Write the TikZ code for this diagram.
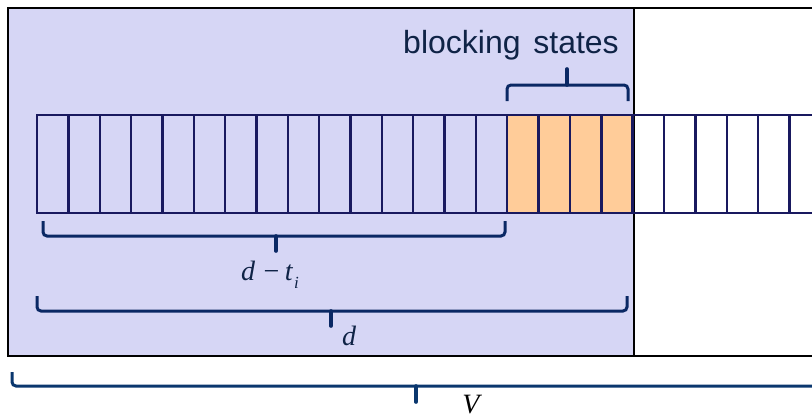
\documentclass[tikz,border=0pt]{standalone}
\usepackage{fontspec}
\setmainfont{Liberation Serif}
\newfontfamily\arialf{Liberation Sans}
\definecolor{lav}{RGB}{214,214,245}
\definecolor{orng}{RGB}{255,204,153}
\definecolor{cellc}{RGB}{25,25,95}
\definecolor{bracec}{RGB}{10,40,100}
\definecolor{bracev}{RGB}{10,55,110}
\definecolor{txtc}{RGB}{15,35,70}
\tikzset{
  cellbox/.style={draw=cellc, line width=2.4pt},
  bracebar/.style={line width=3pt, rounded corners=4pt, line cap=butt},
  cuspbar/.style={line width=3.6pt, line cap=round},
  mathlbl/.style={font=\fontsize{28}{30}\selectfont\itshape, text=txtc, inner sep=0pt, anchor=base},
}
\begin{document}
\begin{tikzpicture}[x=1pt,y=-1pt]
\useasboundingbox (0,0) rectangle (812,415);
\clip (0,0) rectangle (812,415);
% frame
\fill[lav] (8,8) rectangle (634,356);
\draw[black, line width=1.6pt] (830,8) -- (8,8) -- (8,356) -- (830,356);
\draw[black, line width=1.6pt] (634,8) -- (634,356);
% cells
\foreach \k in {15,...,18} {
  \pgfmathsetmacro{\xa}{37+\k*31.35}
  \pgfmathsetmacro{\xb}{37+(\k+1)*31.35}
  \fill[orng] (\xa,115) rectangle (\xb,213);
}
\foreach \k in {0,...,25} {
  \pgfmathsetmacro{\xa}{37+\k*31.35}
  \pgfmathsetmacro{\xb}{37+(\k+1)*31.35}
  \draw[cellbox] (\xa,115) rectangle (\xb,213);
}
% blocking states
\node[font=\arialf\fontsize{32}{36}\selectfont, text=txtc, inner sep=0pt, anchor=base] (bs) at (511,53) {blocking\hspace{0.4em}states};
\coordinate (b1) at (507,101);
\coordinate (b2) at (628,101);
\draw[bracec, bracebar] (b1) -- (507,85) -- (628,85) -- (b2);
\draw[bracec, cuspbar] (567,85) -- (567,69);
% d - t_i
\coordinate (t1) at (43,221);
\coordinate (t2) at (505,221);
\draw[bracec, bracebar] (t1) -- (43,236) -- (505,236) -- (t2);
\draw[bracec, cuspbar] (276,236) -- (276,251);
\node[mathlbl] (ldt) at (270,280) {d\hspace{0.3em}{\upshape −}\hspace{0.2em}t\hspace{0.05em}\raisebox{-0.3em}{\fontsize{17}{17}\selectfont i}};
% d
\coordinate (d1) at (37,296);
\coordinate (d2) at (627,296);
\draw[bracec, bracebar] (d1) -- (37,311) -- (627,311) -- (d2);
\draw[bracec, cuspbar] (331,311) -- (331,326);
\node[mathlbl] (ld) at (349,345) {d};
% V
\coordinate (v1) at (12,372);
\coordinate (v2) at (830,386);
\draw[bracev, bracebar] (v1) -- (12,386) -- (v2);
\draw[bracev, cuspbar] (416,386) -- (416,402);
\node[mathlbl, text=black] (lv) at (471,413) {V};
\end{tikzpicture}
\end{document}
